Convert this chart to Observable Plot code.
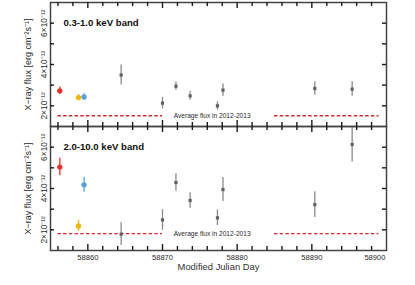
<!DOCTYPE html>
<html><head><meta charset="utf-8">
<script src="https://cdn.jsdelivr.net/npm/d3@7"></script>
<script src="https://cdn.jsdelivr.net/npm/@observablehq/plot@0.6"></script>
<style>
body{margin:0;background:#fff;}
</style></head><body>
<div id="chart"></div>
<script>
const mjd = [58856.25, 58858.75, 58859.5, 58864.46, 58870.0, 58871.8, 58873.7, 58877.36, 58878.1, 58890.4, 58895.4];
const kind = ["red", "orange", "blue", "gray", "gray", "gray", "gray", "gray", "gray", "gray", "gray"];
const softFlux = [2.73, 2.40, 2.43, 3.49, 2.13, 2.95, 2.48, 2.00, 2.76, 2.84, 2.81];
const softErr  = [0.18, 0.15, 0.15, 0.48, 0.28, 0.20, 0.21, 0.20, 0.30, 0.33, 0.35];
const hardFlux = [5.04, 2.19, 4.18, 1.79, 2.48, 4.29, 3.42, 2.58, 3.95, 3.22, 6.13];
const hardErr  = [0.42, 0.27, 0.36, 0.55, 0.50, 0.42, 0.38, 0.38, 0.58, 0.62, 0.85];
const bands = ["soft", "hard"];
const bandLabels = ["0.3-1.0 keV band", "2.0-10.0 keV band"];
const avgFlux = [1.52, 1.82];
const avgSegments = [[58856, 58870], [58885, 58899]];
const avgText = "Average flux in 2012-2013";
const xLabels = [58860, 58870, 58880, 58890, 58900];
const yLabels = [2, 4, 6];
const yMinor = [2, 3, 4, 5, 6];
const xMinor = [58856, 58858, 58862, 58864, 58866, 58868, 58872, 58874, 58876, 58878, 58882, 58884, 58886, 58888, 58892, 58894, 58896, 58898];
const xMajor = [58860, 58870, 58880, 58890];

const X0 = 58855, X1 = 58900, Y0 = 1, Y1 = 7;
const W = 415, H = 285, ML = 50, MR = 29, MT = 2, MB = 35;
const PW = W - ML - MR, PH = (H - MT - MB) / 2;
const dyUnits = px => px * (Y1 - Y0) / PH;
const dxUnits = px => px * (X1 - X0) / PW;

const colorMap = {red: "#e8302b", orange: "#f6b400", blue: "#5a9fd6", gray: "#606060"};
const errColor = {red: "#e8302b", orange: "#f6b400", blue: "#5a9fd6", gray: "#8a8a8a"};
const FONT = "Liberation Sans, Arial, sans-serif";
const ink = "#2a2a2a";
const yfmt = d => `${d}×10⁻¹²`;

const fluxes = [softFlux, hardFlux], errs = [softErr, hardErr];
const rows = bands.flatMap((b, j) => mjd.map((x, i) => ({
  band: b, x, y: fluxes[j][i],
  lo: fluxes[j][i] - errs[j][i],
  hi: Math.min(fluxes[j][i] + errs[j][i], Y1),
  k: kind[i]
})));
const colored = rows.filter(r => r.k !== "gray");
const gray = rows.filter(r => r.k === "gray");
const segs = bands.flatMap((b, j) => avgSegments.map(([a, c]) => ({band: b, x1: a, x2: c, y: avgFlux[j]})));
const avgLabels = bands.map((b, j) => ({band: b, y: avgFlux[j], text: avgText}));
const panelLabels = bands.map((b, j) => ({band: b, text: bandLabels[j], dy: j === 0 ? 16 : 18, dx: j === 0 ? 15 : 12}));
const cross = (arr) => bands.flatMap(b => arr.map(v => ({band: b, v})));
const tk = {stroke: "#1a1a1a", strokeWidth: 1.4};

const chart = Plot.plot({
  width: W, height: H,
  marginLeft: ML, marginRight: MR, marginTop: MT, marginBottom: MB,
  x: {domain: [X0, X1], axis: null},
  y: {domain: [Y0, Y1], axis: null},
  fy: {domain: bands, axis: null, padding: 0},
  style: {fontFamily: FONT, background: "#fff"},
  marks: [
    Plot.ruleY(segs, {fy: "band", y: "y", x1: "x1", x2: "x2", stroke: "#d02a2a", strokeWidth: 1.3, strokeDasharray: "3.4,2.3"}),
    Plot.text(avgLabels, {fy: "band", x: () => 58871.5, y: "y", text: "text", textAnchor: "start", fontSize: 6.6, fill: ink, fontFamily: FONT}),
    Plot.ruleX(rows, {fy: "band", x: "x", y1: "lo", y2: "hi", stroke: d => errColor[d.k], strokeWidth: 1.3}),
    Plot.ruleY(colored, {fy: "band", y: "y", x1: d => d.x - 0.3, x2: d => d.x + 0.3, stroke: d => errColor[d.k], strokeWidth: 1.3}),
    Plot.dot(colored, {fy: "band", x: "x", y: "y", r: 2.6, fill: d => colorMap[d.k], stroke: "none"}),
    Plot.dot(gray, {fy: "band", x: "x", y: "y", r: 1.8, symbol: "square", fill: d => colorMap[d.k], stroke: "none"}),
    Plot.frame({stroke: "#444", strokeWidth: 1.5}),
    Plot.ruleX(cross(xMinor), {fy: "band", x: "v", y1: () => Y1, y2: () => Y1 - dyUnits(4), ...tk}),
    Plot.ruleX(cross(xMajor), {fy: "band", x: "v", y1: () => Y1, y2: () => Y1 - dyUnits(6), ...tk}),
    Plot.ruleX(cross(xMinor), {fy: "band", x: "v", y1: () => Y0, y2: () => Y0 + dyUnits(4), ...tk}),
    Plot.ruleX(cross(xMajor), {fy: "band", x: "v", y1: () => Y0, y2: () => Y0 + dyUnits(6), ...tk}),
    Plot.ruleY(cross(yMinor), {fy: "band", y: "v", x1: () => X0, x2: () => X0 + dxUnits(4), ...tk}),
    Plot.ruleY(cross(yMinor), {fy: "band", y: "v", x1: () => X1, x2: () => X1 - dxUnits(4), ...tk}),
    Plot.text(cross(yLabels), {fy: "band", y: "v", text: d => yfmt(d.v), frameAnchor: "left", dx: -4, rotate: -90, textAnchor: "middle", lineAnchor: "bottom", fontSize: 8.4, fill: ink, fontFamily: FONT}),
    Plot.text(bands, {fy: d => d, text: () => "X−ray flux [erg cm⁻²s⁻¹]", frameAnchor: "left", dx: -20, rotate: -90, textAnchor: "middle", lineAnchor: "bottom", fontSize: 9, fill: ink, fontFamily: FONT}),
    Plot.text(panelLabels, {fy: "band", text: "text", frameAnchor: "top-left", dx: 13, dy: 17, textAnchor: "start", fontSize: 9.6, fontWeight: "bold", fill: "#111", fontFamily: FONT}),
    Plot.text(xLabels.slice(0, -1), {fy: () => "hard", x: d => d, text: d => String(d), frameAnchor: "bottom", dy: 4, lineAnchor: "top", fontSize: 7.6, fill: ink, fontFamily: FONT}),
    Plot.text(xLabels.slice(-1), {fy: () => "hard", x: d => d, text: d => String(d), frameAnchor: "bottom", dy: 4, dx: -1, textAnchor: "end", lineAnchor: "top", fontSize: 7.6, fill: ink, fontFamily: FONT}),
    Plot.text(["Modified Julian Day"], {fy: () => "hard", text: d => d, frameAnchor: "bottom", dy: 13, lineAnchor: "top", fontSize: 9.4, fill: "#333", fontFamily: FONT})
  ]
});
document.getElementById("chart").append(chart);
</script>
</body></html>
